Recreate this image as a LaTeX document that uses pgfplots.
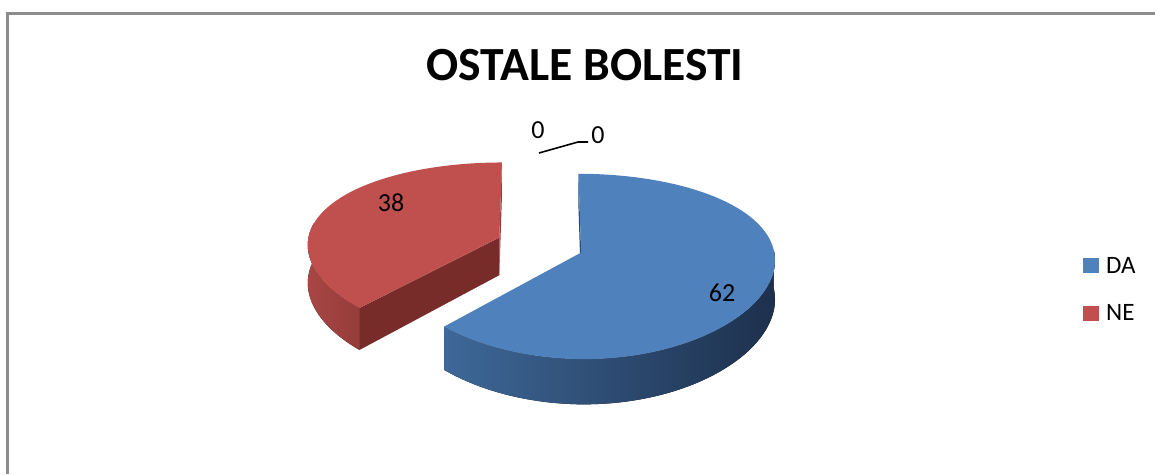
\documentclass[border=0pt]{standalone}
\usepackage{pgfplots}
\pgfplotsset{compat=1.18}
\usepgfplotslibrary{fillbetween}
\usepackage{fontspec}
\setmainfont{Carlito}
\definecolor{blueTop}{HTML}{4F81BD}
\definecolor{blueSideL}{HTML}{3E6898}
\definecolor{blueSideR}{HTML}{1D304D}
\definecolor{blueEdge}{HTML}{2B4A70}
\definecolor{redTop}{HTML}{C0504D}
\definecolor{redSideL}{HTML}{A84644}
\definecolor{redSideR}{HTML}{963C39}
\definecolor{redCut}{HTML}{772C2A}
\definecolor{redEdge}{HTML}{93403D}
\definecolor{borderGray}{HTML}{8C8C8C}
\begin{document}
\begin{tikzpicture}
\def\valDA{62}\def\valNE{38}
\pgfmathsetmacro\aS{90-3.6*\valDA}
\pgfmathsetmacro\rE{\aS+360}
\pgfmathsetmacro\bMid{90-1.8*\valDA}
\pgfmathsetmacro\bu{44*cos(\bMid)}
\pgfmathsetmacro\bv{44*sin(\bMid)}
\pgfmathsetmacro\ru{-\bu}
\pgfmathsetmacro\rv{-\bv}
\begin{axis}[
 at={(0pt,0pt)}, anchor=south west,
 scale only axis, width=1155pt, height=474pt,
 xmin=0,xmax=1155,ymin=0,ymax=474,
 hide axis, clip=false,
 declare function={
  sc(\pv)=1/(1+0.148*\pv/192);
  sh(\pv)=1/(1+0.07*\pv/192);
  sx(\pu,\pw,\pr,\pa)=540+(\pu+\pr*cos(\pa))*sh(\pw+\pr*sin(\pa));
  sy(\pw,\pr,\pa,\ph)=229+((\pw+\pr*sin(\pa))*0.46-\ph)*sc(\pw+\pr*sin(\pa));
 },
 legend style={at={(axis cs:1083,184.5)}, anchor=west, draw=none, fill=none,
   inner sep=0pt, font=\fontsize{25}{30}\selectfont, row sep=26pt, column sep=5pt},
 legend cell align=left,
 legend image code/.code={\fill[#1] (0pt,-7.5pt) rectangle (16pt,7.5pt);},
]
\addlegendimage{fill=blueTop,draw=none}
\addlegendentry{DA}
\addlegendimage{fill=redTop,draw=none}
\addlegendentry{NE}

% ---------- red slice (NE) ----------
% outer side
\addplot[draw=none, forget plot, name path=rst, domain=170:\rE, samples=30] ({sx(\ru,\rv,192,x)},{sy(\rv,192,x,0)});
\addplot[draw=none, forget plot, name path=rsb, domain=170:\rE, samples=30] ({sx(\ru,\rv,192,x)},{sy(\rv,192,x,38)});
\addplot[left color=redSideL, right color=redSideR, draw=none, forget plot] fill between[of=rst and rsb];
% cut face at end angle
\addplot[draw=none, forget plot, name path=rct, domain=0:192, samples=2] ({sx(\ru,\rv,x,\rE)},{sy(\rv,x,\rE,0)});
\addplot[draw=none, forget plot, name path=rcb, domain=0:192, samples=2] ({sx(\ru,\rv,x,\rE)},{sy(\rv,x,\rE,38)});
\addplot[fill=redCut, draw=none, forget plot] fill between[of=rct and rcb];
% back face at 90
\addplot[draw=none, forget plot, name path=rbt, domain=0:192, samples=2] ({sx(\ru,\rv,x,90)},{sy(\rv,x,90,0)});
\addplot[draw=none, forget plot, name path=rbb, domain=0:192, samples=2] ({sx(\ru,\rv,x,90)},{sy(\rv,x,90,38)});
\addplot[fill=redEdge, draw=none, forget plot] fill between[of=rbt and rbb];
% top face
\addplot[draw=none, forget plot, name path=rta, domain=90:\rE, samples=80] ({sx(\ru,\rv,192,x)},{sy(\rv,192,x,0)});
\addplot[draw=none, forget plot, name path=rtc, domain=90:\rE, samples=2] ({sx(\ru,\rv,0,x)},{sy(\rv,0,x,0)});
\addplot[fill=redTop, draw=none, forget plot] fill between[of=rta and rtc];

% ---------- blue slice (DA) ----------
% back face at 90
\addplot[draw=none, forget plot, name path=bbt, domain=0:192, samples=2] ({sx(\bu,\bv,x,90)},{sy(\bv,x,90,0)});
\addplot[draw=none, forget plot, name path=bbb, domain=0:192, samples=2] ({sx(\bu,\bv,x,90)},{sy(\bv,x,90,38)});
\addplot[fill=blueEdge, draw=none, forget plot] fill between[of=bbt and bbb];
% outer side
\addplot[draw=none, forget plot, name path=bst, domain=\aS:2, samples=60] ({sx(\bu,\bv,192,x)},{sy(\bv,192,x,0)});
\addplot[draw=none, forget plot, name path=bsb, domain=\aS:2, samples=60] ({sx(\bu,\bv,192,x)},{sy(\bv,192,x,38)});
\addplot[left color=blueSideL, right color=blueSideR, draw=none, forget plot] fill between[of=bst and bsb];
% top face
\addplot[draw=none, forget plot, name path=bta, domain=\aS:90, samples=100] ({sx(\bu,\bv,192,x)},{sy(\bv,192,x,0)});
\addplot[draw=none, forget plot, name path=btc, domain=\aS:90, samples=2] ({sx(\bu,\bv,0,x)},{sy(\bv,0,x,0)});
\addplot[fill=blueTop, draw=none, forget plot] fill between[of=bta and btc];

% ---------- labels ----------
\node[font=\fontsize{26}{31}\selectfont] at (axis cs:722,181) {\valDA};
\node[font=\fontsize{26}{31}\selectfont] at (axis cs:391,271) {\valNE};
\node[font=\fontsize{26}{31}\selectfont] at (axis cs:538,344) {0};
\node[font=\fontsize{26}{31}\selectfont] at (axis cs:598,339) {0};
\draw[line width=1.6pt] (axis cs:539,321) -- (axis cs:578,332) -- (axis cs:588,332);

% ---------- title ----------
\node[font=\fontsize{47.6}{57}\selectfont\bfseries, anchor=base] at (axis cs:585,393) {OSTALE BOLESTI};
\end{axis}
% ---------- frame ----------
\useasboundingbox (0pt,0pt) rectangle (1155pt,474pt);
\draw[color=borderGray, line width=3pt, line cap=butt] (7.5pt,0pt) -- (7.5pt,462pt);
\draw[color=borderGray, line width=3pt, line cap=butt] (6pt,460.5pt) -- (1155pt,460.5pt);
\end{tikzpicture}
\end{document}
